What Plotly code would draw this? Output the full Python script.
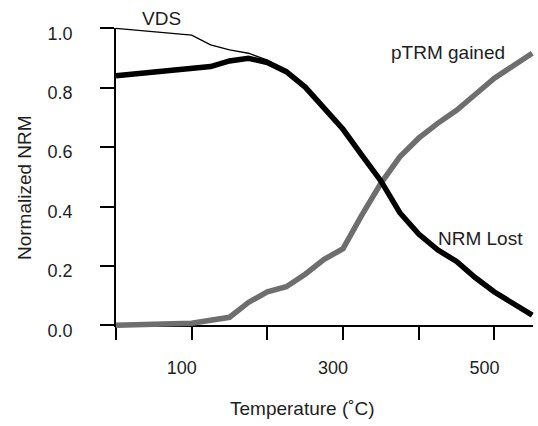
import plotly.graph_objects as go

# Thermal demagnetisation steps (deg C)
temps = [0, 100, 125, 150, 175, 200, 225, 250, 275, 300, 325, 350, 375,
         400, 425, 450, 475, 500, 550]

# Normalised NRM remaining after each step
nrm_lost = [0.840, 0.862, 0.871, 0.890, 0.899, 0.885, 0.854, 0.802, 0.734,
            0.660, 0.572, 0.486, 0.379, 0.307, 0.254, 0.215, 0.160, 0.112,
            0.034]

# Normalised pTRM acquired at each step
ptrm_gained = [0.000, 0.007, 0.017, 0.027, 0.077, 0.113, 0.130, 0.172, 0.222,
               0.258, 0.372, 0.478, 0.567, 0.630, 0.680, 0.724, 0.778, 0.832,
               0.916]

# Vector difference sum (normalised)
vds = [1.000, 0.977, 0.944, 0.927, 0.916, 0.893, 0.856, 0.804, 0.735, 0.661,
       0.573, 0.487, 0.380, 0.308, 0.255, 0.216, 0.161, 0.113, 0.035]

y_ticks = [0.0, 0.2, 0.4, 0.6, 0.8, 1.0]
y_ticktext = ["0.0", "0.2", "0.4", "0.6", "0.8", "1.0"]
x_ticks = [0, 100, 200, 300, 400, 500]
x_ticktext = ["", "100", "", "300", "", "500"]

X_MAX = 551
Y_MAX = 1.0

# ---- page geometry (pixels) ----
W, H = 538, 426
# area used by the data traces (slightly larger than the axes box so the
# thick lines are not clipped at the edges)
L, R, T, B = 106, 538, 18, 335
# the visible axes box
AX0, AX1, AY_TOP, AY_BOT = 116, 533, 28.3, 325.3

pw, ph = R - L, B - T
ppx = (AX1 - AX0) / X_MAX
ppy = (AY_BOT - AY_TOP) / Y_MAX
data_xrange = [0 - (AX0 - L) / ppx, X_MAX + (R - AX1) / ppx]
data_yrange = [0 - (B - AY_BOT) / ppy, Y_MAX + (AY_TOP - T) / ppy]
ax_xdomain = [(AX0 - L) / pw, (AX1 - L) / pw]
ax_ydomain = [(B - AY_BOT) / ph, (B - AY_TOP) / ph]


def px(x):
    return (x - L) / pw


def py(y):
    return (B - y) / ph


FONT = "Liberation Sans, Arial, Helvetica, sans-serif"
TXT = "#1e1e1e"
GRAY = "#6e6e6e"

fig = go.Figure()

# empty trace so the visible axes get their own subplot
fig.add_trace(go.Scatter(x=[], y=[], xaxis="x", yaxis="y",
                         showlegend=False, hoverinfo="skip"))

fig.add_trace(go.Scatter(x=temps, y=vds, mode="lines", xaxis="x2", yaxis="y2",
                         line=dict(color="black", width=1.3),
                         showlegend=False, name="VDS"))
fig.add_trace(go.Scatter(x=temps, y=ptrm_gained, mode="lines",
                         xaxis="x2", yaxis="y2",
                         line=dict(color=GRAY, width=5.5),
                         showlegend=False, name="pTRM gained"))
fig.add_trace(go.Scatter(x=temps, y=nrm_lost, mode="lines",
                         xaxis="x2", yaxis="y2",
                         line=dict(color="black", width=5.5),
                         showlegend=False, name="NRM Lost"))

fig.update_layout(
    width=W, height=H,
    margin=dict(l=L, r=W - R, t=T, b=H - B, pad=0),
    paper_bgcolor="white",
    plot_bgcolor="rgba(0,0,0,0)",
    font=dict(family=FONT, color=TXT, size=18),
    xaxis=dict(domain=ax_xdomain, anchor="y", range=[0, X_MAX],
               showgrid=False, zeroline=False,
               showline=True, linecolor="black", linewidth=1.5,
               ticks="outside", ticklen=13, tickwidth=1.5, tickcolor="black",
               tickvals=x_ticks, ticktext=x_ticktext,
               tickfont=dict(size=18, color=TXT),
               ticklabelstandoff=12, ticklabelshift=-10),
    yaxis=dict(domain=ax_ydomain, anchor="x", range=[0, Y_MAX],
               showgrid=False, zeroline=False,
               showline=True, linecolor="black", linewidth=1.5,
               ticks="outside", ticklen=14, tickwidth=1.5, tickcolor="black",
               tickvals=y_ticks, ticktext=y_ticktext,
               tickfont=dict(size=18, color=TXT),
               ticklabelstandoff=24, ticklabelshift=5),
    xaxis2=dict(domain=[0, 1], anchor="y2", range=data_xrange,
                visible=False, showgrid=False, zeroline=False),
    yaxis2=dict(domain=[0, 1], anchor="x2", range=data_yrange,
                visible=False, showgrid=False, zeroline=False),
)

annots = [
    dict(text="VDS", x=px(161), y=py(18), size=19),
    dict(text="pTRM gained", x=px(448), y=py(53), size=19),
    dict(text="NRM Lost", x=px(480), y=py(238), size=19),
    dict(text="Temperature (˚C)", x=px(302), y=py(409), size=19),
]
for a in annots:
    fig.add_annotation(text=a["text"], x=a["x"], y=a["y"], xref="paper",
                       yref="paper", xanchor="center", yanchor="middle",
                       showarrow=False,
                       font=dict(family=FONT, size=a["size"], color=TXT))

fig.add_annotation(text="Normalized NRM", x=px(24), y=py(188), xref="paper",
                   yref="paper", xanchor="center", yanchor="middle",
                   textangle=-90, showarrow=False,
                   font=dict(family=FONT, size=19, color=TXT))

fig.write_html("out.html")
